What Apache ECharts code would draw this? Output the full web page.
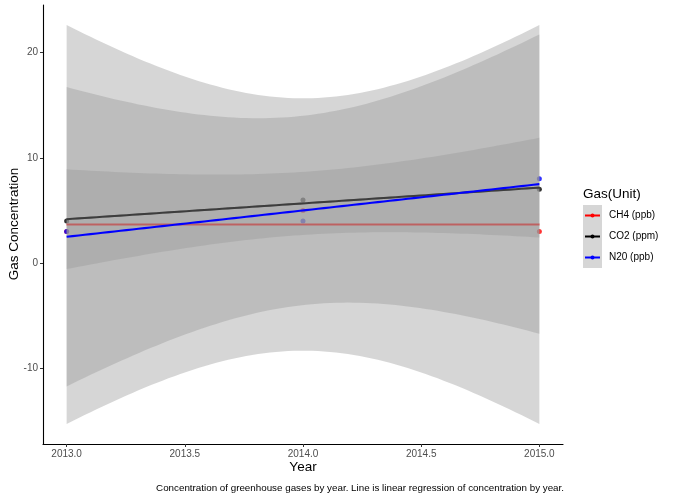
<!DOCTYPE html>
<html>
<head>
<meta charset="utf-8">
<script src="https://cdn.jsdelivr.net/npm/echarts@6/dist/echarts.min.js"></script>
<style>
html,body{margin:0;padding:0;background:#fff;}
#chart{width:673px;height:500px;}
</style>
</head>
<body>
<div id="chart"></div>
<script>
// ---- data ----
const years = [2013, 2014, 2015];
const gasNames = ['CH4 (ppb)', 'CO2 (ppm)', 'N20 (ppb)'];
const ch4 = [3, 5, 3];
const co2 = [4, 6, 7];
const n2o = [3, 4, 8];
const gasColors = ['#ff0000', '#000000', '#0000ff'];
const xTicks = [2013, 2013.5, 2014, 2014.5, 2015];
const yTicks = [-10, 0, 10, 20];
const legendTitle = 'Gas(Unit)';
const xTitle = 'Year';
const yTitle = 'Gas Concentration';
const caption = 'Concentration of greenhouse gases by year. Line is linear regression of concentration by year.';

// linear regression with 95% confidence band (as ggplot geom_smooth(method = "lm"))
const T975_DF1 = 12.706;
function fitLm(xs, ys) {
  const n = xs.length;
  const mx = xs.reduce((a, b) => a + b, 0) / n;
  const my = ys.reduce((a, b) => a + b, 0) / n;
  let sxx = 0, sxy = 0;
  xs.forEach((x, i) => { sxx += (x - mx) * (x - mx); sxy += (x - mx) * (ys[i] - my); });
  const b = sxy / sxx, a = my - b * mx;
  let sse = 0;
  xs.forEach((x, i) => { const r = ys[i] - (a + b * x); sse += r * r; });
  const s = Math.sqrt(sse / (n - 2));
  const pred = x => a + b * x;
  const half = x => T975_DF1 * s * Math.sqrt(1 / n + (x - mx) * (x - mx) / sxx);
  const grid = [];
  const nGrid = 80;
  for (let i = 0; i < nGrid; i++) grid.push(xs[0] + (xs[n - 1] - xs[0]) * i / (nGrid - 1));
  return {
    line: grid.map(x => [x, pred(x)]),
    upper: grid.map(x => [x, pred(x) + half(x)]),
    lower: grid.map(x => [x, pred(x) - half(x)])
  };
}

const gasValues = [ch4, co2, n2o];
const fits = gasValues.map(v => fitLm(years, v));

const series = [];
// points (under the ribbons)
gasValues.forEach((vals, g) => {
  series.push({
    type: 'scatter', name: gasNames[g] + ' pts', z: 1,
    data: years.map((y, i) => [y, vals[i]]),
    symbol: 'circle', symbolSize: 5,
    itemStyle: { color: gasColors[g] }, silent: true
  });
});
// ribbon + line per group, in group order
fits.forEach((f, g) => {
  series.push({
    type: 'custom', name: gasNames[g] + ' band', z: 2 + g * 2, silent: true, clip: false,
    data: [[years[0], 0]],
    renderItem: function (params, api) {
      const pts = f.upper.map(p => api.coord(p)).concat(f.lower.slice().reverse().map(p => api.coord(p)));
      return { type: 'polygon', shape: { points: pts }, style: { fill: 'rgba(153,153,153,0.4)', stroke: null } };
    }
  });
  series.push({
    type: 'line', name: gasNames[g], z: 3 + g * 2, silent: true,
    data: f.line, showSymbol: false, symbol: 'none',
    lineStyle: { color: gasColors[g], width: 2.1 }, itemStyle: { color: gasColors[g] }
  });
});

const FONT = '"Liberation Sans", Arial, sans-serif';
// legend drawn with graphic elements (ggplot-style keys)
const legX = 583, legTop = 205, keyW = 19, keyH = 21;
const graphic = [
  { type: 'text', x: legX, y: 194, style: { text: legendTitle, font: '13.5px ' + FONT, fill: '#000', verticalAlign: 'middle' } }
];
gasNames.forEach((nm, g) => {
  const cy = legTop + keyH * g + keyH / 2;
  graphic.push({ type: 'rect', shape: { x: legX, y: legTop + keyH * g, width: keyW, height: keyH }, style: { fill: '#d6d6d6' } });
  graphic.push({ type: 'line', shape: { x1: legX + 2, y1: cy, x2: legX + keyW - 2, y2: cy }, style: { stroke: gasColors[g], lineWidth: 2 } });
  graphic.push({ type: 'circle', shape: { cx: legX + keyW / 2, cy: cy, r: 2 }, style: { fill: gasColors[g] } });
  graphic.push({ type: 'text', x: legX + keyW + 7, y: cy, style: { text: nm, font: '10px ' + FONT, fill: '#000', verticalAlign: 'middle' } });
});
// axis titles and caption
graphic.push({ type: 'text', x: 303, y: 467, style: { text: xTitle, font: '13.5px ' + FONT, fill: '#000', align: 'center', verticalAlign: 'middle' } });
graphic.push({ type: 'text', x: 14, y: 224, rotation: Math.PI / 2, style: { text: yTitle, font: '13.5px ' + FONT, fill: '#000', align: 'center', verticalAlign: 'middle' } });
graphic.push({ type: 'text', x: 564, y: 488, style: { text: caption, font: '9.8px ' + FONT, fill: '#000', align: 'right', verticalAlign: 'middle' } });

const chart = echarts.init(document.getElementById('chart'), null, { renderer: 'canvas' });
chart.setOption({
  animation: false,
  backgroundColor: '#ffffff',
  grid: { left: 43, right: 110, top: 5, bottom: 56, containLabel: false },
  xAxis: {
    type: 'value', min: 2012.9, max: 2015.1,
    axisLine: { show: true, onZero: false, lineStyle: { color: '#000', width: 1.1 } },
    axisTick: { show: true, length: 3, lineStyle: { color: '#333' }, customValues: xTicks },
    axisLabel: { color: '#4d4d4d', fontSize: 10, fontFamily: FONT, margin: 5, customValues: xTicks, formatter: v => v.toFixed(1) },
    splitLine: { show: false }
  },
  yAxis: {
    type: 'value', min: -17.17, max: 24.5,
    axisLine: { show: true, onZero: false, lineStyle: { color: '#000', width: 1.1 } },
    axisTick: { show: true, length: 3, lineStyle: { color: '#333' }, customValues: yTicks },
    axisLabel: { color: '#4d4d4d', fontSize: 10, fontFamily: FONT, margin: 5, customValues: yTicks, formatter: v => String(v) },
    splitLine: { show: false }
  },
  graphic: graphic,
  series: series
});
</script>
</body>
</html>
